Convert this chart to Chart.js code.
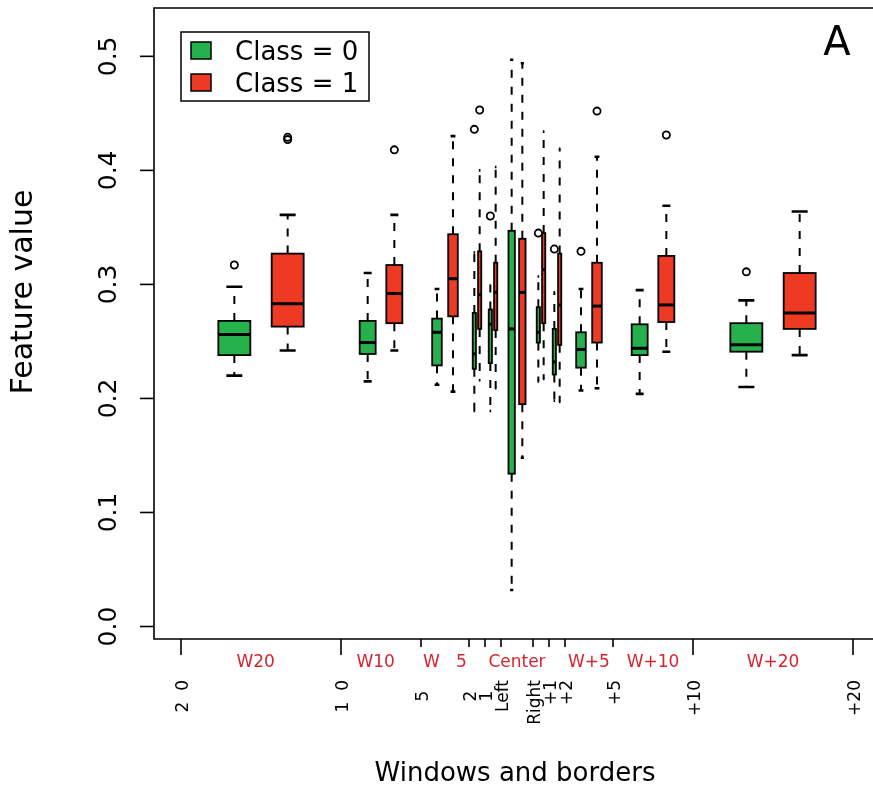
<!DOCTYPE html>
<html>
<head>
<meta charset="utf-8">
<script src="https://cdn.jsdelivr.net/npm/chart.js@4.4.1/dist/chart.umd.min.js"></script>
<style>
  html, body { margin: 0; padding: 0; background: #fff; }
  canvas { display: block; }
</style>
</head>
<body>
<canvas id="chart" width="873" height="789"></canvas>
<script>
// axis: group borders on the x scale and their labels
const tickPositions = [-20, -10, -5, -2, -1, 0, 2, 3, 4, 7, 12, 22];
const tickLabels = ["2  0", "1  0", "5  ", "2  ", "1  ", "Left", "Right", "+1", "+2", "+5", "+10", "+20"];
const majorTicks = [-20, -10, 12, 22];
const groupLabels = ["W20  ", "W10  ", "W   5", "", "", "Center", "", "", "W+5", "W+10", "W+20"];
const yTicks = [0, 0.1, 0.2, 0.3, 0.4, 0.5];

// [lower whisker, Q1, median, Q3, upper whisker] for each group
const class0Stats = [
  [0.220, 0.238, 0.256, 0.268, 0.298],
  [0.215, 0.239, 0.249, 0.268, 0.310],
  [0.212, 0.229, 0.258, 0.270, 0.296],
  [0.189, 0.226, 0.239, 0.275, 0.328],
  [0.189, 0.231, 0.265, 0.278, 0.299],
  [0.032, 0.134, 0.261, 0.347, 0.497],
  [0.215, 0.249, 0.258, 0.280, 0.307],
  [0.198, 0.221, 0.232, 0.261, 0.293],
  [0.207, 0.227, 0.243, 0.258, 0.296],
  [0.204, 0.238, 0.244, 0.265, 0.295],
  [0.210, 0.241, 0.247, 0.266, 0.286]
];
const class1Stats = [
  [0.242, 0.263, 0.283, 0.327, 0.361],
  [0.242, 0.266, 0.292, 0.317, 0.361],
  [0.206, 0.272, 0.305, 0.344, 0.430],
  [0.216, 0.261, 0.291, 0.329, 0.400],
  [0.209, 0.260, 0.293, 0.319, 0.403],
  [0.148, 0.195, 0.293, 0.340, 0.494],
  [0.217, 0.266, 0.313, 0.345, 0.434],
  [0.197, 0.247, 0.282, 0.327, 0.419],
  [0.209, 0.249, 0.281, 0.319, 0.412],
  [0.241, 0.267, 0.282, 0.325, 0.369],
  [0.238, 0.261, 0.275, 0.310, 0.364]
];
// [group index, value]
const class0Outliers = [[0, 0.317], [3, 0.436], [4, 0.360], [6, 0.345], [7, 0.331], [8, 0.329], [10, 0.311]];
const class1Outliers = [[0, 0.429], [0, 0.427], [1, 0.418], [3, 0.453], [8, 0.452], [9, 0.431]];

const GREEN = "#25b14c";
const RED = "#ee3a22";
const FONT = "'DejaVu Sans', Verdana, sans-serif";

function groupPos(i, cls) {
  const a = tickPositions[i], b = tickPositions[i + 1];
  return a + (b - a) * (cls + 1) / 3;
}
function groupWidth(i) {
  return (tickPositions[i + 1] - tickPositions[i]) / 5;
}

const boxPlugin = {
  id: "boxes",
  beforeDatasetsDraw(chart) {
    const ctx = chart.ctx;
    const xs = chart.scales.x, ys = chart.scales.y;
    [class0Stats, class1Stats].forEach((stats, cls) => {
      stats.forEach((s, i) => {
        const pos = groupPos(i, cls);
        const w = groupWidth(i);
        const xc = xs.getPixelForValue(pos);
        const x0 = xs.getPixelForValue(pos - w / 2);
        const x1 = xs.getPixelForValue(pos + w / 2);
        const half = (x1 - x0) / 2;
        const [lo, q1, med, q3, hi] = s.map(v => ys.getPixelForValue(v));
        ctx.save();
        ctx.strokeStyle = "#000";
        // whiskers
        ctx.lineWidth = 2;
        ctx.setLineDash([8, 9]);
        ctx.beginPath();
        ctx.moveTo(xc, q3); ctx.lineTo(xc, hi);
        ctx.moveTo(xc, q1); ctx.lineTo(xc, lo);
        ctx.stroke();
        ctx.setLineDash([]);
        // staples
        ctx.lineWidth = 2.6;
        ctx.beginPath();
        ctx.moveTo(xc - half / 2, hi); ctx.lineTo(xc + half / 2, hi);
        ctx.moveTo(xc - half / 2, lo); ctx.lineTo(xc + half / 2, lo);
        ctx.stroke();
        // box
        ctx.fillStyle = cls === 0 ? GREEN : RED;
        ctx.fillRect(x0, q3, x1 - x0, q1 - q3);
        ctx.lineWidth = 1.8;
        ctx.strokeRect(x0, q3, x1 - x0, q1 - q3);
        // median
        ctx.lineWidth = 3;
        ctx.beginPath();
        ctx.moveTo(x0, med); ctx.lineTo(x1, med);
        ctx.stroke();
        ctx.restore();
      });
    });
  }
};

const framePlugin = {
  id: "frame",
  afterDraw(chart) {
    const ctx = chart.ctx;
    const a = chart.chartArea;
    const xs = chart.scales.x, ys = chart.scales.y;
    ctx.save();
    ctx.strokeStyle = "#000";
    ctx.fillStyle = "#000";
    ctx.lineWidth = 1.6;
    // frame: left, top, bottom
    ctx.beginPath();
    ctx.moveTo(a.right + 2, a.top); ctx.lineTo(a.left, a.top);
    ctx.lineTo(a.left, a.bottom); ctx.lineTo(a.right + 2, a.bottom);
    ctx.stroke();

    // y ticks and rotated labels
    ctx.font = "25px " + FONT;
    ctx.textAlign = "center";
    ctx.textBaseline = "alphabetic";
    yTicks.forEach(v => {
      const py = ys.getPixelForValue(v);
      ctx.beginPath();
      ctx.moveTo(a.left - 14, py); ctx.lineTo(a.left, py);
      ctx.stroke();
      ctx.save();
      ctx.translate(116, py);
      ctx.rotate(-Math.PI / 2);
      ctx.fillText(v.toFixed(1), 0, 0);
      ctx.restore();
    });

    // x ticks and rotated labels
    ctx.font = "17px " + FONT;
    ctx.textAlign = "right";
    tickPositions.forEach((t, k) => {
      const px = xs.getPixelForValue(t);
      const len = majorTicks.includes(t) ? 16 : 8;
      ctx.beginPath();
      ctx.moveTo(px, a.bottom); ctx.lineTo(px, a.bottom + len);
      ctx.stroke();
      ctx.save();
      ctx.translate(px + 6.5, 680);
      ctx.rotate(-Math.PI / 2);
      ctx.fillText(tickLabels[k], 0, 0);
      ctx.restore();
    });

    // red group names
    ctx.fillStyle = "#d42630";
    ctx.textAlign = "center";
    groupLabels.forEach((g, i) => {
      if (!g) return;
      const mid = (tickPositions[i] + tickPositions[i + 1]) / 2;
      ctx.fillText(g, xs.getPixelForValue(mid), 667);
    });

    // axis titles
    ctx.fillStyle = "#000";
    ctx.font = "26px " + FONT;
    ctx.fillText("Windows and borders", 515, 781);
    ctx.save();
    ctx.translate(32, 292);
    ctx.rotate(-Math.PI / 2);
    ctx.font = "30px " + FONT;
    ctx.fillText("Feature value", 0, 0);
    ctx.restore();

    // panel letter
    ctx.font = "40px " + FONT;
    ctx.fillText("A", 837, 55);

    // legend
    ctx.lineWidth = 1.5;
    ctx.strokeRect(181, 32, 188, 69);
    const items = [["Class = 0", GREEN, 42], ["Class = 1", RED, 74]];
    ctx.font = "26px " + FONT;
    ctx.textAlign = "left";
    items.forEach(([txt, col, top]) => {
      ctx.fillStyle = col;
      ctx.fillRect(191, top, 20, 17);
      ctx.strokeRect(191, top, 20, 17);
      ctx.fillStyle = "#000";
      ctx.fillText(txt, 235, top + 18);
    });
    ctx.restore();
  }
};

function outlierPoints(list, cls) {
  return list.map(([g, v]) => ({ x: groupPos(g, cls), y: v }));
}

new Chart(document.getElementById("chart"), {
  type: "scatter",
  data: {
    datasets: [
      {
        label: "Class = 0",
        data: outlierPoints(class0Outliers, 0),
        pointStyle: "circle",
        pointRadius: 3.6,
        borderWidth: 1.8,
        borderColor: "#000",
        backgroundColor: "rgba(0,0,0,0)"
      },
      {
        label: "Class = 1",
        data: outlierPoints(class1Outliers, 1),
        pointStyle: "circle",
        pointRadius: 3.6,
        borderWidth: 1.8,
        borderColor: "#000",
        backgroundColor: "rgba(0,0,0,0)"
      }
    ]
  },
  options: {
    responsive: false,
    animation: false,
    layout: { autoPadding: false, padding: { left: 154, right: 0, top: 8, bottom: 150 } },
    scales: {
      x: { type: "linear", display: false, min: -21.6875, max: 23.25 },
      y: { type: "linear", display: false, min: -0.01096, max: 0.5424 }
    },
    plugins: {
      legend: { display: false },
      tooltip: { enabled: false }
    }
  },
  plugins: [boxPlugin, framePlugin]
});
</script>
</body>
</html>
